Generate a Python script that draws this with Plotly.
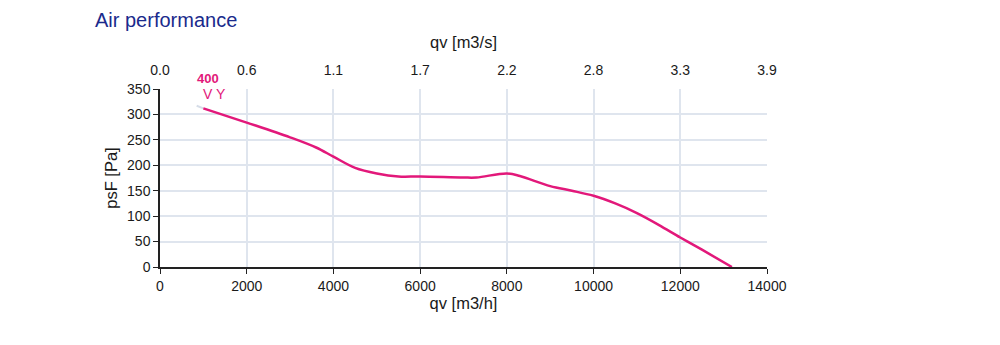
import plotly.graph_objects as go

# Data
qv_m3h = [1000, 2000, 3000, 3600, 4000, 4500, 5000, 5500, 6000, 7000, 7300, 8000, 8300, 9000, 9500, 10000, 10500, 11000, 11500, 12000, 12500, 13190]
psf_pa = [312, 284, 255, 235, 217, 195, 184, 178, 178, 176, 176, 184, 179, 159, 150, 140, 125, 106, 83, 58, 34, 0]
ext_qv = [846, 1000]
ext_psf = [317, 312]

bottom_ticks = [0, 2000, 4000, 6000, 8000, 10000, 12000, 14000]
top_tick_labels = ["0.0", "0.6", "1.1", "1.7", "2.2", "2.8", "3.3", "3.9"]
y_ticks = [0, 50, 100, 150, 200, 250, 300, 350]

curve_color = "#E2187A"
font_family = "Liberation Sans, Arial, sans-serif"

fig = go.Figure()
fig.add_trace(go.Scatter(x=ext_qv, y=ext_psf, mode="lines",
                         line=dict(color="#d6dde8", width=2), hoverinfo="skip", showlegend=False))
fig.add_trace(go.Scatter(x=qv_m3h, y=psf_pa, mode="lines", line_shape="spline",
                         line=dict(color=curve_color, width=2.5), showlegend=False))
# invisible trace to activate the top axis
fig.add_trace(go.Scatter(x=[0, 14000 / 3600], y=[None, None], xaxis="x2", mode="lines",
                         showlegend=False, hoverinfo="skip"))

fig.add_annotation(x=1100, y=350, xref="x", yref="y", text="<b>400</b>", showarrow=False,
                   xanchor="center", yanchor="bottom", yshift=1,
                   font=dict(color=curve_color, size=13, family=font_family))
fig.add_annotation(x=1250, y=350, xref="x", yref="y", text="V Y", showarrow=False,
                   xanchor="center", yanchor="top", yshift=5,
                   font=dict(color=curve_color, size=14, family=font_family))

fig.update_layout(
    width=992, height=337,
    margin=dict(l=152, r=233, t=81, b=78),
    paper_bgcolor="white", plot_bgcolor="white",
    font=dict(family=font_family, size=14, color="#1a1a1a"),
    title=dict(text="Air performance", x=0.0877, xanchor="left", y=0.964, yanchor="middle",
               font=dict(size=20, color="#1a2a8c", family=font_family)),
    xaxis=dict(range=[0, 14000], tickvals=bottom_ticks, ticktext=[str(t) for t in bottom_ticks],
               showgrid=True, gridcolor="#dfe5ee", gridwidth=1.5,
               showline=True, linecolor="#222222", linewidth=1.5,
               ticks="outside", ticklen=5, tickcolor="#222222",
               zeroline=False,
               title=dict(text="qv [m3/h]", font=dict(size=16.5), standoff=2)),
    xaxis2=dict(range=[0, 14000 / 3600], overlaying="x", side="top",
                tickvals=[t / 3600 for t in bottom_ticks], ticktext=top_tick_labels,
                showgrid=False, showline=False, zeroline=False,
                ticks="outside", ticklen=7, tickcolor="rgba(0,0,0,0)",
                title=dict(text="qv [m3/s]", font=dict(size=16.5), standoff=9)),
    yaxis=dict(range=[0, 350], tickvals=y_ticks,
               showgrid=True, gridcolor="#dfe5ee", gridwidth=1.5,
               showline=True, linecolor="#222222", linewidth=1.5,
               ticks="outside", ticklen=5, tickcolor="#222222",
               zeroline=False,
               title=dict(text="psF [Pa]", font=dict(size=16.5), standoff=5)),
)

fig.write_html("out.html")
